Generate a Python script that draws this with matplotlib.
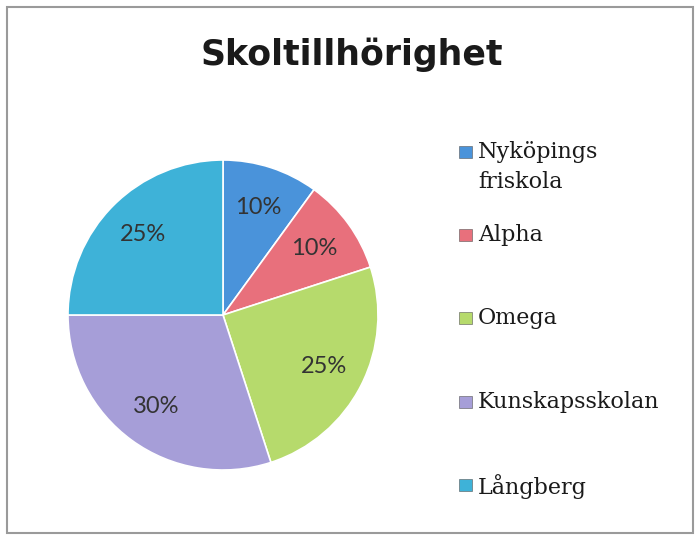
import matplotlib
matplotlib.use("Agg")
import matplotlib.pyplot as plt
from matplotlib.patches import Rectangle

# chart data
title = "Skoltillhörighet"
schools = ["Nyköpings\nfriskola", "Alpha", "Omega", "Kunskapsskolan", "Långberg"]
shares = [10, 10, 25, 30, 25]
colors = ["#4a93da", "#e8707c", "#b6da6c", "#a69ed8", "#3eb2d8"]

W, H = 696, 535
fig = plt.figure(figsize=(W / 100, H / 100), dpi=100)
fig.patch.set_facecolor("white")

# outer chart border
fig.add_artist(Rectangle((7 / W, 2 / H), 686 / W, 526 / H, transform=fig.transFigure,
                         fill=False, edgecolor="#9a9a9a", linewidth=1.5))

# pie area: centre (223, 315), radius 155 px
cx, cy, r = 223, 315, 155
ax = fig.add_axes([(cx - r) / W, (H - cy - r) / H, 2 * r / W, 2 * r / H])
wedges, texts, autotexts = ax.pie(
    shares, colors=colors, startangle=90, counterclock=False,
    autopct="%d%%", pctdistance=0.73,
    wedgeprops=dict(edgecolor="white", linewidth=1.2),
    textprops=dict(fontsize=17, family="Lato", color="#333333"))
ax.set_xlim(-1, 1)
ax.set_ylim(-1, 1)
ax.set_aspect("equal")

# title
fig.text(352 / W, 1 - 55 / H, title, ha="center", va="center",
         fontsize=25, fontweight="bold", family="DejaVu Sans", color="#1a1a1a")

# legend, drawn by hand so the two-line entry lines up on its first line
legend_y = [152, 235, 318, 402, 485]
for lab, col, y in zip(schools, colors, legend_y):
    fig.add_artist(Rectangle((459 / W, 1 - (y + 6) / H), 13 / W, 12 / H,
                             transform=fig.transFigure, facecolor=col,
                             edgecolor="#555555", linewidth=0.4))
    fig.text(478 / W, 1 - (y - 11) / H, lab, ha="left", va="top",
             fontsize=16, family="DejaVu Serif", color="#1a1a1a", linespacing=1.5)

fig.savefig("out.png", dpi=100)
